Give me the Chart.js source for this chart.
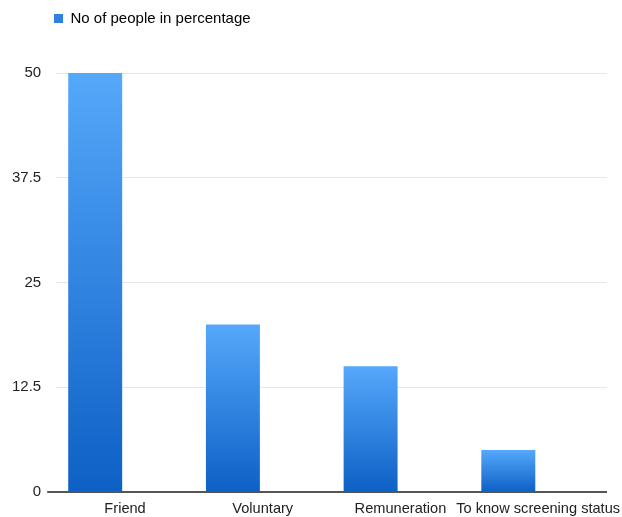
<!DOCTYPE html>
<html>
<head>
<meta charset="utf-8">
<script src="https://cdn.jsdelivr.net/npm/chart.js@4"></script>
<style>
  html, body { margin: 0; padding: 0; background: #fff; }
  #wrap { width: 622px; height: 517px; }
</style>
</head>
<body>
<div id="wrap"><canvas id="chart" width="622" height="517"></canvas></div>
<script>
const categories = ['Friend', 'Voluntary', 'Remuneration', 'To know screening status'];
const peoplePct = [50, 20, 15, 5];
const yTicks = [0, 12.5, 25, 37.5, 50];
const seriesName = 'No of people in percentage';

function barGradient(context) {
    const chart = context.chart;
    const yScale = chart.scales.y;
    if (!yScale || context.type !== 'data') return '#3d8ae8';
    const top = yScale.getPixelForValue(context.parsed.y);
    const bottom = yScale.getPixelForValue(0);
    if (!isFinite(top) || !isFinite(bottom) || top === bottom) return '#3d8ae8';
    const g = chart.ctx.createLinearGradient(0, top, 0, bottom);
    g.addColorStop(0, '#55a8fa');
    g.addColorStop(1, '#0d60c5');
    return g;
}

// legend sits further right and leaves a tall gap above the plot
const legendShift = {
    id: 'legendShift',
    afterInit(chart) {
        const legend = chart.legend;
        const fit = legend.fit;
        legend.fit = function () {
            fit.call(this);
            this.height = 73;
        };
    },
    afterLayout(chart) {
        chart.legend.left = 43;
    }
};

Chart.defaults.font.family = '"Liberation Sans", Arial, sans-serif';
Chart.defaults.font.size = 15;
Chart.defaults.color = '#222';

const ctx = document.getElementById('chart').getContext('2d');
new Chart(ctx, {
    type: 'bar',
    data: {
        labels: categories,
        datasets: [{
            label: seriesName,
            data: peoplePct,
            backgroundColor: barGradient,
            borderWidth: 0,
            barPercentage: 0.904,
            categoryPercentage: 0.867
        }, {
            label: '',
            data: [],
            barPercentage: 0.904,
            categoryPercentage: 0.867
        }]
    },
    options: {
        responsive: false,
        animation: false,
        layout: { padding: { left: 6, right: 15, top: 0, bottom: 0 } },
        plugins: {
            legend: {
                display: true,
                position: 'top',
                align: 'start',
                labels: {
                    boxWidth: 9,
                    boxHeight: 9,
                    padding: 11,
                    color: '#222',
                    generateLabels: chart => [{
                        text: seriesName,
                        fillStyle: '#2f80e0',
                        strokeStyle: '#2f80e0',
                        lineWidth: 0,
                        datasetIndex: 0
                    }]
                }
            },
            tooltip: { enabled: false }
        },
        scales: {
            x: {
                grid: { display: false, drawTicks: false },
                border: { display: false },
                ticks: { padding: 8, maxRotation: 0, autoSkip: false, font: { size: 14.6 } },
                afterFit: s => {
                    s.paddingLeft = 0;
                    s.paddingRight = 0;
                    s.height = 25;
                }
            },
            y: {
                min: 0,
                max: 50,
                afterBuildTicks: axis => {
                    axis.ticks = yTicks.map(v => ({ value: v }));
                },
                grid: {
                    color: c => c.tick && c.tick.value === 0 ? '#555' : '#e6e6e6',
                    lineWidth: c => c.tick && c.tick.value === 0 ? 2 : 1,
                    tickColor: c => c.tick && c.tick.value === 0 ? '#555' : 'rgba(0,0,0,0)',
                    tickLength: 9,
                    drawTicks: true
                },
                border: { display: false },
                ticks: { padding: 6, color: '#222' }
            }
        }
    },
    plugins: [legendShift]
});
</script>
</body>
</html>
